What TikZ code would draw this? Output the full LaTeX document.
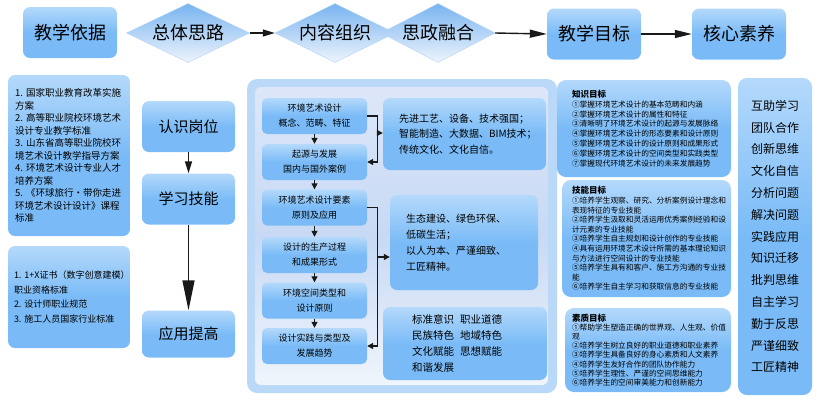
\documentclass[tikz,border=0pt]{standalone}
\usepackage{fontspec}
\setmainfont{Noto Sans CJK SC}
\usetikzlibrary{shapes.geometric,arrows.meta}

\definecolor{boxblue}{RGB}{122,187,247}
\definecolor{boxtop}{RGB}{180,217,251}
\definecolor{dmdblue}{RGB}{120,180,240}
\definecolor{dmdlow}{RGB}{238,244,252}
\definecolor{paneledge}{RGB}{186,216,247}
\definecolor{paneltop}{RGB}{221,231,249}
\definecolor{panelmid}{RGB}{199,217,244}
\definecolor{panellow}{RGB}{240,245,252}
\definecolor{inkline}{RGB}{25,25,25}

\begin{document}
\begin{tikzpicture}[x=1pt,y=-1pt,
    bluebox/.style={rectangle,rounded corners=7pt,top color=boxtop,bottom color=boxblue,middle color=boxblue,inner sep=0pt,text=black},
    titlebox/.style={bluebox,minimum width=94pt,minimum height=51pt,font=\fontsize{18}{20}\selectfont},
    dmd/.style={diamond,aspect=2,inner sep=0pt,minimum height=59pt,top color=dmdblue,bottom color=dmdlow,draw=dmdblue!60,font=\fontsize{18}{20}\selectfont},
    stagebox/.style={bluebox,minimum width=93pt,minimum height=51pt,font=\fontsize{15}{17}\selectfont},
    topicbox/.style={bluebox,rounded corners=5pt,minimum width=105pt,minimum height=36pt,align=center,font=\fontsize{9}{15}\selectfont},
    goalbox/.style={bluebox,rounded corners=9pt,align=left,font=\fontsize{7.7}{9.8}\selectfont},
    flowarr/.style={draw=inkline,line width=1.4pt,-{Triangle[length=12pt,width=7pt]}},
    longhead/.style={-{Triangle[length=17pt,width=8pt]}},
    bighead/.style={-{Triangle[length=30pt,width=12pt]}},
    minarr/.style={draw=inkline,line width=1.2pt,-{Triangle[length=6pt,width=6pt]}}]

    \useasboundingbox (0,0) rectangle (818,408);

    % Top row
    \node[titlebox] (jxyj) at (70,32.5) {教学依据};
    \node[dmd,minimum width=123pt] (ztsl) at (188,33) {总体思路};
    \node[dmd,minimum width=120pt] (nrzz) at (335,33) {内容组织};
    \node[dmd,minimum width=114pt] (szrh) at (438,33) {思政融合};
    \node[titlebox] (jxmb) at (594,34) {教学目标};
    \node[titlebox] (hxsy) at (739,34) {核心素养};

    \draw[flowarr] (ztsl.east) -- (nrzz.west);
    \draw[flowarr,longhead] (szrh.east) -- (jxmb.west);
    \draw[flowarr,longhead] (jxmb.east) -- (hxsy.west);

    % Teaching basis
    \node[bluebox,minimum width=122pt,minimum height=161pt,text width=108pt,align=left,font=\fontsize{9.5}{12.5}\selectfont] (yiju) at (69,155.5)
        {1.~国家职业教育改革实施\\方案\\2.~高等职业院校环境艺术\\设计专业教学标准\\3.~山东省高等职业院校环\\境艺术设计教学指导方案\\4.~环境艺术设计专业人才\\培养方案\\5.~《环球旅行·带你走进\\环境艺术设计设计》课程\\标准};
    \node[bluebox,minimum width=122pt,minimum height=102pt,text width=110pt,align=left,font=\fontsize{9}{14.7}\selectfont] (biaozhun) at (69,297)
        {1.~1+X证书（数字创意建模）\\职业资格标准\\2.~设计师职业规范\\3.~施工人员国家行业标准};

    % Overall idea
    \node[stagebox] (rsgw) at (188.5,126.5) {认识岗位};
    \node[stagebox] (xxjn) at (188.5,199) {学习技能};
    \node[stagebox,minimum height=47pt] (yytg) at (188.5,334) {应用提高};

    \draw[flowarr] (rsgw.south) -- (xxjn.north);
    \draw[flowarr,bighead] (xxjn.south) -- (yytg.north);

    % Content panel
    \fill[paneledge,rounded corners=10pt] (247,79) rectangle (557,393);
    \shade[top color=paneltop,bottom color=panellow,middle color=panelmid,rounded corners=6pt] (255,87) rectangle (548,385);

    \node[topicbox] (gn) at (314.5,116) {环境艺术设计\\概念、范畴、特征};
    \node[topicbox] (qy) at (314.5,162) {起源与发展\\国内与国外案例};
    \node[topicbox] (ys) at (314.5,207.5) {环境艺术设计要素\\原则及应用};
    \node[topicbox] (gc) at (314.5,255) {设计的生产过程\\和成果形式};
    \node[topicbox] (lx) at (314.5,300.5) {环境空间类型和\\设计原则};
    \node[topicbox] (qs) at (314.5,346) {设计实践与类型及\\发展趋势};

    \foreach \a/\b in {gn/qy,qy/ys,ys/gc,gc/lx,lx/qs}
        \draw[minarr] (\a.south) -- (\b.north);

    \node[bluebox,minimum width=163pt,minimum height=72pt,text width=131pt,align=left,font=\fontsize{10}{15.5}\selectfont] (sz1) at (464.5,134)
        {先进工艺、设备、技术强国；\\智能制造、大数据、BIM技术；\\传统文化、文化自信。};
    \node[bluebox,minimum width=148pt,minimum height=95pt,text width=116pt,align=left,font=\fontsize{10}{16}\selectfont] (sz2) at (464,242.5)
        {生态建设、绿色环保、\\低碳生活；\\以人为本、严谨细致、\\工匠精神。};
    \node[bluebox,minimum width=164pt,minimum height=73pt,text width=106pt,align=left,font=\fontsize{10.5}{16}\selectfont] (sz3) at (465,343.5)
        {标准意识\hspace{6pt}职业道德\\民族特色\hspace{6pt}地域特色\\文化赋能\hspace{6pt}思想赋能\\和谐发展};

    % Brackets to the ideological boxes
    \draw[minarr] (gn.east) -- ++(10,0) |- (qy.east);
    \coordinate (fork1) at (377,133);
    \draw[minarr] (fork1) -- (sz1.west |- fork1);
    \draw[minarr] (ys.east) -- ++(10,0) |- (qs.east);
    \coordinate (fork2) at (377,257);
    \draw[minarr] (fork2) -- (sz2.west |- fork2);

    % Teaching goals
    \node[goalbox,minimum width=174pt,minimum height=97pt,text width=144pt] (zsmb) at (644,128.5)
        {{\fontsize{8.5}{9.8}\selectfont\bfseries 知识目标}\\①掌握环境艺术设计的基本范畴和内涵\\②掌握环境艺术设计的属性和特征\\③清晰明了环境艺术设计的起源与发展脉络\\④掌握环境艺术设计的形态要素和设计原则\\⑤掌握环境艺术设计的设计原则和成果形式\\⑥掌握环境艺术设计的空间类型和实践类型\\⑦掌握现代环境艺术设计的未来发展趋势};
    \node[goalbox,minimum width=169pt,minimum height=117pt,text width=149pt,font=\fontsize{7.7}{9.6}\selectfont] (jnmb) at (646.5,238.5)
        {{\fontsize{8.5}{9.6}\selectfont\bfseries 技能目标}\\①培养学生观察、研究、分析案例设计理念和\\表现特征的专业技能\\②培养学生汲取和灵活运用优秀案例经验和设\\计元素的专业技能\\③培养学生自主规划和设计创作的专业技能\\④具有运用环境艺术设计所需的基本理论知识\\与方法进行空间设计的专业技能\\⑤培养学生具有和客户、施工方沟通的专业技\\能\\⑥培养学生自主学习和获取信息的专业技能};
    \node[goalbox,minimum width=166pt,minimum height=84pt,text width=152pt,font=\fontsize{7.7}{9.1}\selectfont] (szmb) at (648,350)
        {{\fontsize{8.5}{9.1}\selectfont\bfseries 素质目标}\\①帮助学生塑造正确的世界观、人生观、价值\\观\\②培养学生树立良好的职业道德和职业素养\\③培养学生具备良好的身心素质和人文素养\\④培养学生友好合作的团队协作能力\\⑤培养学生理性、严谨的空间思维能力\\⑥培养学生的空间审美能力和创新能力};

    % Core literacy
    \node[bluebox,rounded corners=9pt,minimum width=74pt,minimum height=317pt,align=center,font=\fontsize{12}{21.8}\selectfont] (hxlist) at (775,236.5)
        {互助学习\\团队合作\\创新思维\\文化自信\\分析问题\\解决问题\\实践应用\\知识迁移\\批判思维\\自主学习\\勤于反思\\严谨细致\\工匠精神};
\end{tikzpicture}
\end{document}
